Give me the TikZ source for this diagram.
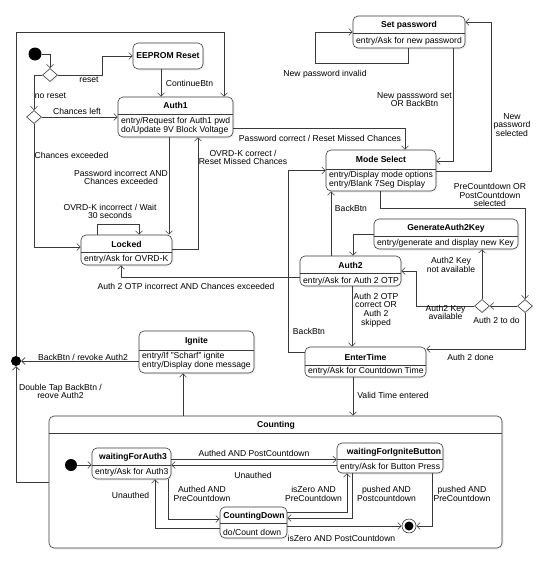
\documentclass[tikz,border=0pt]{standalone}
\usepackage{fontspec}
\setmainfont{Liberation Sans}
\usetikzlibrary{arrows.meta,shapes.geometric,shadows}
\definecolor{lc}{HTML}{3A3A3A}
\begin{document}
\begin{tikzpicture}[x=1pt,y=-1pt,
  every node/.style={font=\fontsize{8.6}{8.8}\selectfont},
  st/.style={draw=lc, line width=0.6pt, rounded corners=5pt, fill=white, inner sep=0pt,
    drop shadow={opacity=0.12, shadow xshift=1.5pt, shadow yshift=-1.5pt}},
  div/.style={draw=lc, line width=0.6pt},
  ttl/.style={font=\fontsize{8.6}{8.8}\selectfont\bfseries, inner sep=0pt},
  bd/.style={align=left, anchor=west, inner sep=0pt},
  lb/.style={align=center, inner sep=0pt},
  ar/.style={draw=lc, line width=0.6pt, -{Straight Barb[length=3.5pt,width=7pt]}},
  ln/.style={draw=lc, line width=0.6pt},
  dm/.style={diamond, draw=lc, fill=white, line width=0.6pt, minimum width=15pt, minimum height=13pt, inner sep=0pt,
    drop shadow={opacity=0.12, shadow xshift=1.5pt, shadow yshift=-1.5pt}},
  dot/.style={circle, fill=black, inner sep=0pt}
]
\useasboundingbox (0,0) rectangle (536,562);

% ---------- Counting composite ----------
\node[st, minimum width=453pt, minimum height=132pt] (counting) at (275.5,482) {};
\draw[div] (counting.west |- 0,433) -- (counting.east |- 0,433);
\node[ttl] (countingt) at (276,425) {Counting};

% ---------- states ----------
\node[st, minimum width=70pt, minimum height=26pt] (eeprom) at (168,56) {};
\node[ttl] (eepromt) at (168,56) {EEPROM Reset};

\node[st, minimum width=115pt, minimum height=40pt] (auth1) at (175.5,117) {};
\draw[div] (auth1.west |- 0,114) -- (auth1.east |- 0,114);
\node[ttl] (auth1t) at (175.5,105.5) {Auth1};
\node[bd] (auth1b) at (121,126) {entry/Request for Auth1 pwd\\do/Update 9V Block Voltage};

\node[st, minimum width=91pt, minimum height=30pt] (locked) at (126.5,250) {};
\draw[div] (locked.west |- 0,252) -- (locked.east |- 0,252);
\node[ttl] (lockedt) at (126.5,244) {Locked};
\node[bd] (lockedb) at (84,259.5) {entry/Ask for OVRD-K};

\node[st, minimum width=112pt, minimum height=32pt] (setpw) at (409,32) {};
\draw[div] (setpw.west |- 0,33) -- (setpw.east |- 0,33);
\node[ttl] (setpwt) at (409,25) {Set password};
\node[bd] (setpwb) at (356,41.5) {entry/Ask for new password};

\node[st, minimum width=110pt, minimum height=41pt] (mode) at (381,170.5) {};
\draw[div] (mode.west |- 0,169) -- (mode.east |- 0,169);
\node[ttl] (modet) at (381,159) {Mode Select};
\node[bd] (modeb) at (329,179.5) {entry/Display mode options\\entry/Blank 7Seg Display};

\node[st, minimum width=144pt, minimum height=30pt] (gen) at (446,234) {};
\draw[div] (gen.west |- 0,236) -- (gen.east |- 0,236);
\node[ttl] (gent) at (446,228) {GenerateAuth2Key};
\node[bd] (genb) at (377,243.5) {entry/generate and display new Key};

\node[st, minimum width=101pt, minimum height=30pt] (auth2) at (350.5,271) {};
\draw[div] (auth2.west |- 0,273) -- (auth2.east |- 0,273);
\node[ttl] (auth2t) at (350.5,265) {Auth2};
\node[bd] (auth2b) at (303,281) {entry/Ask for Auth 2 OTP};

\node[st, minimum width=121pt, minimum height=30pt] (enter) at (365.5,362) {};
\draw[div] (enter.west |- 0,365) -- (enter.east |- 0,365);
\node[ttl] (entert) at (365.5,357) {EnterTime};
\node[bd] (enterb) at (308,371.5) {entry/Ask for Countdown Time};

\node[st, minimum width=115pt, minimum height=42pt] (ignite) at (196.5,352) {};
\draw[div] (ignite.west |- 0,350) -- (ignite.east |- 0,350);
\node[ttl] (ignitet) at (196.5,341) {Ignite};
\node[bd] (igniteb) at (142,361) {entry/If "Scharf" ignite\\entry/Display done message};

\node[st, minimum width=79pt, minimum height=31pt] (wfa3) at (131.5,463.5) {};
\draw[div] (wfa3.west |- 0,465) -- (wfa3.east |- 0,465);
\node[ttl] (wfa3t) at (133,457) {waitingForAuth3};
\node[bd] (wfa3b) at (95,472.5) {entry/Ask for Auth3};

\node[st, minimum width=106pt, minimum height=30pt] (wfib) at (390,458) {};
\draw[div] (wfib.west |- 0,459) -- (wfib.east |- 0,459);
\node[ttl] (wfibt) at (394,452) {waitingForIgniteButton};
\node[bd] (wfibb) at (340,467.5) {entry/Ask for Button Press};

\node[st, minimum width=67pt, minimum height=31pt] (cd) at (253.5,522.5) {};
\draw[div] (cd.west |- 0,523) -- (cd.east |- 0,523);
\node[ttl] (cdt) at (254,516) {CountingDown};
\node[bd] (cdb) at (223,532) {do/Count down};

% ---------- pseudo states ----------
\node[dot, minimum size=13pt] (dot0) at (35,54) {};
\node[dm] (d1) at (50,75) {};
\node[dm] (d2) at (34,117) {};
\node[dm] (d3) at (525,306) {};
\node[dm] (d4) at (482,306) {};
\node[dot, minimum size=10pt] (jdot) at (16,361) {};
\node[dot, minimum size=12pt] (idot) at (71,465) {};
\node[circle, draw=lc, line width=0.6pt, fill=white, minimum size=14pt, inner sep=0pt] (fin) at (409,526) {};
\fill (fin.center) circle (4.5pt);

% ---------- connectors ----------
\draw[ar] (dot0.east) -| (d1.north);
\draw[ar] (d1.east) -- (d1.east -| 102,0) |- (eeprom.west);
\draw[ar] (d1.west) -| (d2.north);
\draw[ar] (d2.east) -- (auth1.west);
\draw[ar] (d2.south) |- ([yshift=3pt]locked.west);
\draw[ar] (eeprom.south -| 161,0) -- (auth1.north -| 161,0);
\draw[ar] (jdot.north) -- (16,32) -| (auth1.north -| 224,0);
\draw[ar] (auth1.south -| 169,0) -- (locked.north -| 169,0);
\draw[ar] (locked.east |- 0,249) -| (auth1.south -| 198,0);
\draw[ar] (locked.north -| 97,0) -- (97,224) -- (139,224) -- (locked.north -| 139,0);
\draw[ar] (auth2.west |- 0,277) -| (locked.south -| 121,0);
\draw[ar] (auth1.east |- 0,128) -| (mode.north -| 405,0);
\draw[ar] (setpw.south -| 408,0) -- (408,63) -- (315,63) |- (setpw.west);
\draw[ar] (setpw.south -| 453,0) |- (mode.east |- 0,161);
\draw[ar] (mode.east |- 0,171) -- (491,171) |- (setpw.east |- 0,22);
\draw[ar] (mode.south -| 380,0) -- (380,208) -| (d3.north);
\draw[ar] (d3.west) -- (d4.east);
\draw[ar] (d3.south) |- (enter.east |- 0,349);
\draw[ar] (d4.north) -- (gen.south -| d4.north);
\draw[ar] (d4.west) -- (d4.west -| 416,0) |- (auth2.east);
\draw[ar] (gen.west) -| (auth2.north -| 353,0);
\draw[ar] (auth2.north -| 331,0) -- (mode.south -| 331,0);
\draw[ar] (auth2.south -| 352,0) -- (enter.north -| 352,0);
\draw[ar] (enter.west |- 0,352) -- (288,352) |- (mode.west);
\draw[ar] (enter.south -| 353,0) -- (counting.north -| 353,0);
\draw[ar] (counting.north -| 183,0) -- (ignite.south -| 183,0);
\draw[ar] (jdot -| ignite.west) -- (jdot.east);
\draw[ar] (counting.west) -| (jdot.south);

\draw[ar] (idot.east) -- (wfa3.west |- idot);
\draw[ar] (wfa3.east |- 0,459.5) -- (wfib.west |- 0,459.5);
\draw[ar] (wfib.west |- 0,465) -- (wfa3.east |- 0,465);
\draw[ar] (wfa3.south -| 168,0) |- (cd.west |- 0,519);
\draw[ar] (cd.west |- 0,528) -| (wfa3.south -| 155,0);
\draw[ar] (cd.east |- 0,512) -| (wfib.south -| 347,0);
\draw[ar] (wfib.south -| 352,0) |- (cd.east |- 0,518);
\draw[ar] (cd.east |- fin) -- (fin.west);
\draw[ar] (wfib.south -| 432,0) |- (fin.east);

% ---------- labels ----------
\node[lb] (l1) at (89,80) {reset};
\node[lb] (l2) at (50.5,96) {no reset};
\node[lb] (l3) at (77,111) {Chances left};
\node[lb] (l4) at (189.5,83) {ContinueBtn};
\node[lb] (l5) at (71.5,155) {Chances exceeded};
\node[lb] (l6) at (121,177.5) {Password incorrect AND\\Chances exceeded};
\node[lb] (l7) at (110,211.5) {OVRD-K incorrect / Wait\\30 seconds};
\node[lb] (l8) at (243,157.5) {OVRD-K correct /\\Reset Missed Chances};
\node[lb] (l9) at (320,138) {Password correct / Reset Missed Chances};
\node[lb] (l10) at (325,74) {New password invalid};
\node[lb] (l11) at (414.5,99.5) {New passsword set\\OR BackBtn};
\node[lb] (l12) at (512,125) {New\\password\\selected};
\node[lb] (l13) at (490,195) {PreCountdown OR\\PostCountdown\\selected};
\node[lb] (l14) at (351,208) {BackBtn};
\node[lb] (l15) at (451,265) {Auth2 Key\\not available};
\node[lb] (l16) at (445.5,312.5) {Auth2 Key\\available};
\node[lb] (l17) at (496.5,320) {Auth 2 to do};
\node[lb] (l18) at (470.5,357) {Auth 2 done};
\node[lb] (l19) at (186,286) {Auth 2 OTP incorrect AND Chances exceeded};
\node[lb] (l20) at (376,310) {Auth 2 OTP\\correct OR\\Auth 2\\skipped};
\node[lb] (l21) at (309,331) {BackBtn};
\node[lb] (l22) at (393,395) {Valid Time entered};
\node[lb] (l23) at (83,357.5) {BackBtn / revoke Auth2};
\node[lb] (l24) at (60.5,391.5) {Double Tap BackBtn /\\reove Auth2};
\node[lb] (l25) at (254,453) {Authed AND PostCountdown};
\node[lb] (l26) at (253,475) {Unauthed};
\node[lb] (l27) at (202,494) {Authed AND\\PreCountdown};
\node[lb] (l28) at (130.5,495) {Unauthed};
\node[lb] (l29) at (313.5,494) {isZero AND\\PreCountdown};
\node[lb] (l30) at (386.5,494) {pushed AND\\Postcountdown};
\node[lb] (l31) at (462,494) {pushed AND\\PreCountdown};
\node[lb] (l32) at (341.5,538) {isZero AND PostCountdown};
\end{tikzpicture}
\end{document}
